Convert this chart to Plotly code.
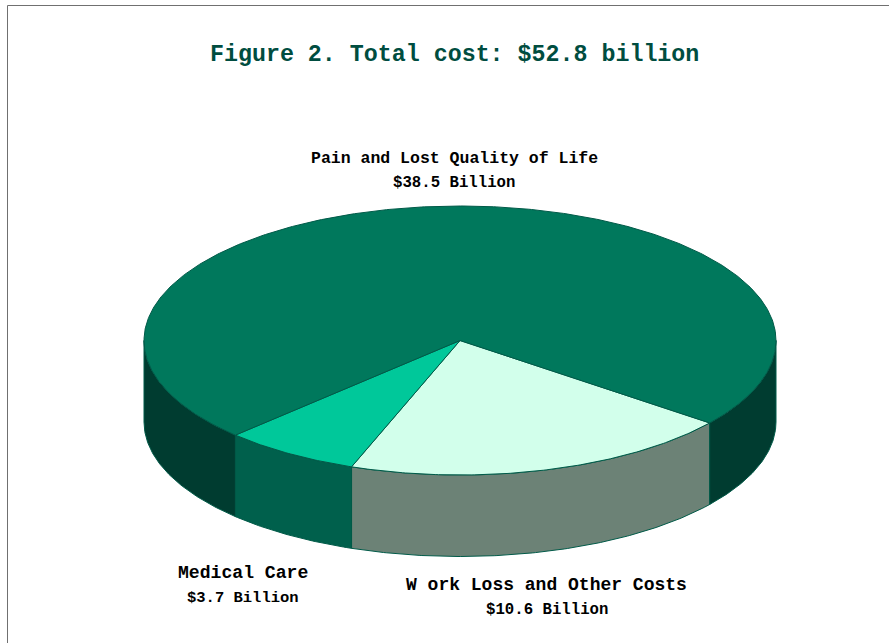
import numpy as np
import plotly.graph_objects as go

categories = ["Work Loss and Other Costs", "Medical Care", "Pain and Lost Quality of Life"]
values = [10.6, 3.7, 38.5]
label_names = ["W ork Loss and Other Costs", "Medical Care", "Pain and Lost Quality of Life"]
label_amounts = ["$10.6 Billion", "$3.7 Billion", "$38.5 Billion"]
title_text = "Figure 2. Total cost: $52.8 billion"

top_colors = ["#D2FFEB", "#00C89A", "#00785C"]
wall_colors = ["#6C8276", "#00604C", "#003C30"]
EDGE = "#005A48"
FONT = "Liberation Mono"

W, H = 889, 643
CX, CY, RX, RY, DEPTH = 460, 340.5, 316, 134.5, 81.5
START = 127.8


def px(t, drop=0.0):
    r = np.radians(t)
    return CX + RX * np.sin(r), CY - RY * np.cos(r) + drop


def arc(a, b):
    return np.linspace(a, b, max(int(abs(b - a) * 2), 2))


total = sum(values)
sweeps = [v / total * 360 for v in values]
starts = START + np.concatenate([[0], np.cumsum(sweeps)[:-1]])

fig = go.Figure()

# front walls: only the part of each arc that faces the viewer
for s, w, col, name in zip(starts, sweeps, wall_colors, categories):
    for k in (-1, 0, 1):
        a = max(s, 90 + 360 * k)
        b = min(s + w, 270 + 360 * k)
        if b <= a:
            continue
        t = arc(a, b)
        x1, y1 = px(t)
        x2, y2 = px(t[::-1], DEPTH)
        fig.add_trace(go.Scatter(
            x=np.r_[x1, x2, x1[0]], y=np.r_[y1, y2, y1[0]],
            mode="lines", fill="toself", fillcolor=col,
            line=dict(color=EDGE, width=1), name=name,
            hoverinfo="name", showlegend=False))

# top faces
for s, w, col, name in zip(starts, sweeps, top_colors, categories):
    x1, y1 = px(arc(s, s + w))
    fig.add_trace(go.Scatter(
        x=np.r_[CX, x1, CX], y=np.r_[CY, y1, CY],
        mode="lines", fill="toself", fillcolor=col,
        line=dict(color=EDGE, width=1), name=name,
        hoverinfo="name", showlegend=False))

# x, name y, amount y, name size, amount size
label_pos = [(546.5, 585, 610, 18.0, 15.7), (243, 573, 598, 18.1, 15.5), (454, 158, 183, 16.5, 15.7)]
for n, am, (lx, y1, y2, s1, s2) in zip(label_names, label_amounts, label_pos):
    for txt, ly, fs in ((n, y1, s1), (am, y2, s2)):
        fig.add_annotation(x=lx, y=ly, xref="x", yref="y", text=txt, showarrow=False,
                           font=dict(family=FONT, size=fs, color="#000000", weight="bold"))

fig.add_annotation(x=454, y=54.5, xref="x", yref="y", text=title_text, showarrow=False,
                   font=dict(family=FONT, size=23.3, color="#004D40", weight="bold"))

fig.add_shape(type="line", xref="x", yref="y", x0=7.5, x1=W, y0=5.5, y1=5.5, line=dict(color="#707070", width=1))
fig.add_shape(type="line", xref="x", yref="y", x0=7.5, x1=7.5, y0=5.5, y1=H, line=dict(color="#707070", width=1))

fig.update_layout(
    width=W, height=H, margin=dict(l=0, r=0, t=0, b=0),
    paper_bgcolor="white", plot_bgcolor="white", showlegend=False,
    xaxis=dict(range=[0, W], visible=False, fixedrange=True),
    yaxis=dict(range=[H, 0], visible=False, fixedrange=True),
)
fig.write_html("out.html", config={"displayModeBar": False},
               post_script="document.body.style.margin='0';document.body.style.overflow='hidden';")
